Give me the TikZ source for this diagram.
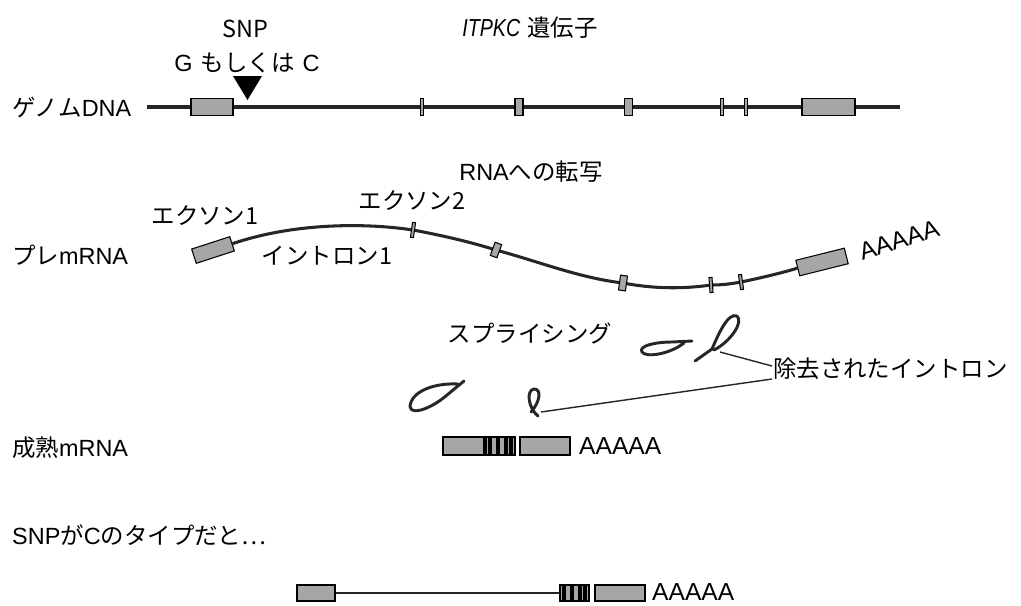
\documentclass[tikz,border=0pt]{standalone}
\usepackage{fontspec}
\setmainfont{Noto Sans CJK JP}
\newfontfamily\lat{Liberation Sans}
\newfontfamily\itp{Liberation Sans}[FakeStretch=0.8]
\usetikzlibrary{calc,backgrounds}
\tikzset{
  lbl/.style={font=\fontsize{20}{24}\selectfont, inner sep=0pt},
  polya/.style={font=\fontsize{21}{24}\selectfont\lat, inner sep=0pt},
  exbox/.style 2 args={draw=black, line width=0.9pt, fill=black!35, inner sep=0pt,
     minimum width=#1*0.03cm, minimum height=#2*0.03cm},
  strand/.style={line width=2.6pt, black!85},
  loopline/.style={line width=2.5pt, black!85, line cap=round, line join=round},
  leader/.style={line width=1.2pt, black!85},
}
\begin{document}
\begin{tikzpicture}[x=0.03cm,y=-0.03cm]
\useasboundingbox (0,0) rectangle (1021,605);

% ---- top labels
\node[lbl] (snp) at (245,29) {SNP};
\node[lbl] (gc) at (247,63) {{\lat G}\hspace{0.35em}もしくは\hspace{0.35em}{\lat C}};
\node[lbl] (gene) at (530,28) {{\fontsize{21}{24}\selectfont\itp\itshape ITPKC}\hspace{0.3em}遺伝子};
\fill (233,76) -- (262,76) -- (247.5,100) -- cycle;

% ---- genomic DNA
\node[lbl, anchor=west] (dnalbl) at (12,107) {ゲノム{\lat DNA}};
\coordinate (ds) at (147,107);
\coordinate (de) at (900,107);
\node[exbox={42}{17}] (d1) at (212,107) {};
\node[exbox={3}{17}] (d2) at (422,107) {};
\node[exbox={8}{17}] (d3) at (519,107) {};
\node[exbox={8}{17}] (d4) at (628.5,107) {};
\node[exbox={3}{17}] (d5) at (722,107) {};
\node[exbox={3}{17}] (d6) at (746,107) {};
\node[exbox={53}{17}] (d7) at (828.5,107) {};

% ---- pre-mRNA
\node[lbl] (tr) at (531,172) {{\lat RNA}への転写};
\node[lbl] (ex1) at (205,216) {エクソン1};
\node[lbl] (ex2) at (412,201) {エクソン2};
\node[lbl] (in1) at (327,256) {イントロン1};
\node[lbl, anchor=west] (prelbl) at (12,255) {プレ{\lat mRNA}};
\node[exbox={40}{15}, rotate=18] (pe1) at (213,250) {};
\node[exbox={3}{15}, rotate=-8] (pe2) at (413,230) {};
\node[exbox={7}{14}, rotate=-20] (pe3) at (496,250) {};
\node[exbox={7}{15}, rotate=-8] (pe4) at (623,283) {};
\node[exbox={3}{15}, rotate=4] (pe5) at (711,285) {};
\node[exbox={3}{15}, rotate=8] (pe6) at (741,282) {};
\node[exbox={50}{16}, rotate=14] (pe7) at (822,262) {};
\node[polya, rotate=17] (polya1) at (899,240) {AAAAA};

% ---- splicing
\node[lbl] (spl) at (530,333) {スプライシング};
\node[lbl, anchor=west] (rem) at (773,369) {除去されたイントロン};
% removed intron lariats
\draw[loopline] (464,381) -- (447,395) .. controls (430,410) and (405,418) .. (411,402)
  .. controls (417,388) and (440,383) .. (458,384);
\draw[loopline] (538,416) .. controls (528,408) and (526,390) .. (534,389)
  .. controls (542,389) and (540,402) .. (531,412);
\draw[loopline] (692,341) -- (672,342) .. controls (655,342) and (638,346) .. (642,352)
  .. controls (646,358) and (670,354) .. (684,343);
\draw[loopline] (695,361) -- (712,349) .. controls (718,335) and (728,312) .. (737,316)
  .. controls (744,322) and (730,342) .. (714,350);
\coordinate (lc1) at (720,352);
\coordinate (lc2) at (541,412);
\draw[leader] (lc1) -- ($(rem.west)+(-1,-3)$);
\draw[leader] (lc2) -- ($(rem.west)+(-1,10)$);

% ---- mature mRNA
\node[lbl, anchor=west] (matlbl) at (12,448) {成熟{\lat mRNA}};
\node[exbox={41}{18}] (m1) at (463.5,446) {};
\node[exbox={3}{18}] (m2) at (487.5,446) {};
\node[exbox={6}{18}] (m3) at (494,446) {};
\node[exbox={6}{18}] (m4) at (502,446) {};
\node[exbox={3}{18}] (m5) at (508.5,446) {};
\node[exbox={3}{18}] (m6) at (513.5,446) {};
\node[exbox={50}{18}] (m7) at (545,446) {};
\node[polya, anchor=west] (polya2) at (579,446) {AAAAA};

% ---- C type
\node[lbl, anchor=west] (ctype) at (12,535) {{\lat SNP}が{\lat C}のタイプだと…};
\node[exbox={38}{16}] (b1) at (316,593) {};
\node[exbox={3}{16}] (b2) at (561.5,593) {};
\node[exbox={6}{16}] (b3) at (568,593) {};
\node[exbox={6}{16}] (b4) at (576,593) {};
\node[exbox={3}{16}] (b5) at (582.5,593) {};
\node[exbox={3}{16}] (b6) at (587.5,593) {};
\node[exbox={50}{16}] (b7) at (620,593) {};
\node[polya, anchor=west] (polya3) at (652,592) {AAAAA};

\begin{pgfonlayer}{background}
\fill[white] (0,0) rectangle (1021,605);
\draw[strand] (ds) -- (de);
\draw[strand] (pe1.east) .. controls (290,224) and (360,222) .. (pe2.center)
  .. controls (445,236) and (470,242) .. (pe3.center)
  .. controls (540,262) and (580,278) .. (pe4.center)
  .. controls (660,290) and (690,288) .. (pe5.center)
  .. controls (722,285) and (730,284) .. (pe6.center)
  .. controls (765,277) and (785,272) .. (pe7.west);
\draw[strand, line width=2.5pt] (b1.east) -- (b2.west);
\end{pgfonlayer}
\end{tikzpicture}
\end{document}
